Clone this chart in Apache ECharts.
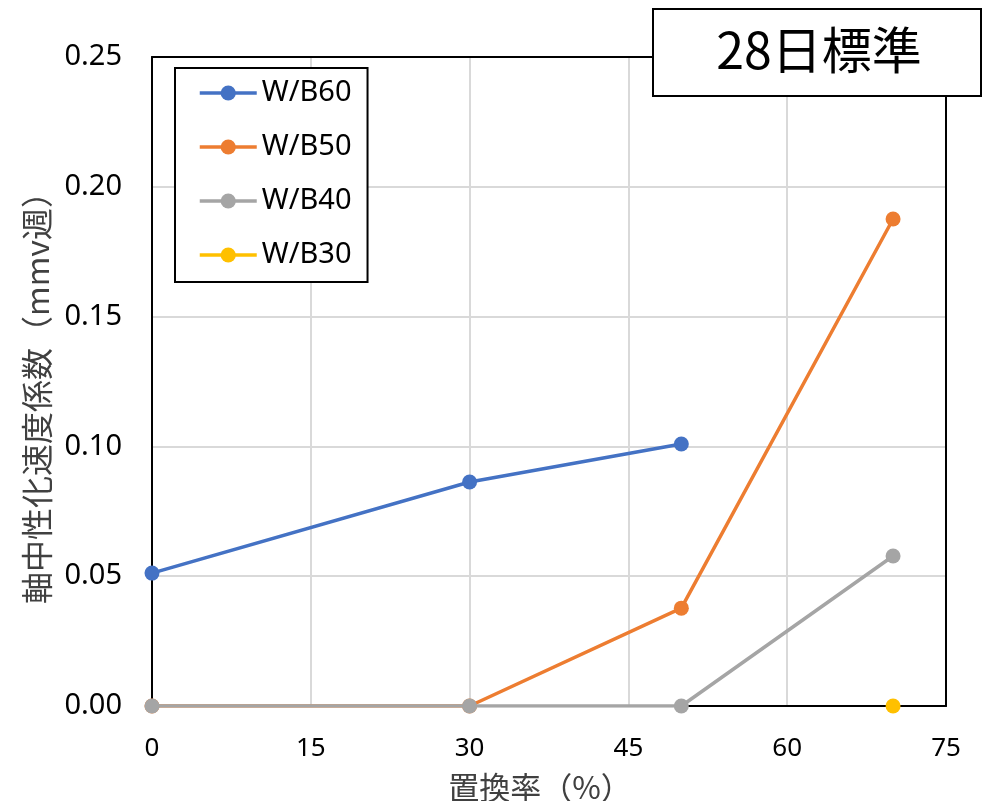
<!DOCTYPE html>
<html>
<head>
<meta charset="utf-8">
<script src="https://cdn.jsdelivr.net/npm/echarts@6/dist/echarts.min.js"></script>
<style>
html,body{margin:0;padding:0;background:#fff;}
#chart{width:989px;height:801px;}
</style>
</head>
<body>
<div id="chart"></div>
<script>
var xValues = [0, 30, 50, 70];
var seriesNames = ['W/B60', 'W/B50', 'W/B40', 'W/B30'];
var wb60 = [0.0512, 0.0863, 0.1009, null];
var wb50 = [0.0, 0.0, 0.0377, 0.1876];
var wb40 = [0.0, 0.0, 0.0, 0.0578];
var wb30 = [null, null, null, 0.0];
var colors = ['#4472C4', '#ED7D31', '#A5A5A5', '#FFC000'];
var xTicks = [0, 15, 30, 45, 60, 75];
var yTicks = [0, 0.05, 0.10, 0.15, 0.20, 0.25];
var titleText = '28日標準';
var xName = '置換率（%）';
var yName = '軸中性化速度係数（mmv週）';

var CJK = '"Noto Sans CJK JP", "Noto Sans", sans-serif';
var LAT = '"Noto Sans", "Noto Sans CJK JP", sans-serif';
function pairs(vals) {
  var out = [];
  for (var i = 0; i < xValues.length; i++) {
    if (vals[i] !== null) out.push([xValues[i], vals[i]]);
  }
  return out;
}
var allVals = [wb60, wb50, wb40, wb30];
var series = seriesNames.map(function (n, i) {
  return {
    name: n, type: 'line', data: pairs(allVals[i]),
    xAxisIndex: 0, yAxisIndex: 0,
    symbol: 'circle', symbolSize: 15,
    lineStyle: { width: 3.5, color: colors[i] },
    itemStyle: { color: colors[i] },
    z: 2 + i
  };
});

var chart = echarts.init(document.getElementById('chart'));
chart.setOption({
  animation: false,
  backgroundColor: '#fff',
  grid: { left: 152, top: 57, right: 43, bottom: 95 },
  xAxis: [{
    type: 'value', min: xTicks[0], max: xTicks[xTicks.length - 1], interval: 15,
    axisLine: { show: true, lineStyle: { color: '#000', width: 2 } },
    axisTick: { show: false },
    axisLabel: { color: '#000', fontSize: 26, fontFamily: LAT, margin: 30 },
    splitLine: { show: true, lineStyle: { color: '#d9d9d9', width: 2 } }
  }, {
    type: 'value', position: 'top', min: xTicks[0], max: xTicks[xTicks.length - 1], interval: 15,
    axisLine: { show: true, onZero: false, lineStyle: { color: '#000', width: 2 } },
    axisTick: { show: false }, axisLabel: { show: false }, splitLine: { show: false }, z: 3
  }],
  yAxis: [{
    type: 'value', min: yTicks[0], max: yTicks[yTicks.length - 1], interval: 0.05,
    axisLine: { show: true, lineStyle: { color: '#000', width: 2 } },
    axisTick: { show: false },
    axisLabel: { color: '#000', fontSize: 29, fontFamily: LAT, margin: 30,
      formatter: function (v) { return v.toFixed(2); } },
    splitLine: { show: true, lineStyle: { color: '#d9d9d9', width: 2 } }
  }, {
    type: 'value', position: 'right', min: yTicks[0], max: yTicks[yTicks.length - 1], interval: 0.05,
    axisLine: { show: true, onZero: false, lineStyle: { color: '#000', width: 2 } },
    axisTick: { show: false }, axisLabel: { show: false }, splitLine: { show: false }, z: 3
  }],
  legend: {
    data: seriesNames,
    orient: 'vertical', left: 175, top: 68,
    backgroundColor: '#fff', borderColor: '#000', borderWidth: 2,
    padding: [10, 16, 12, 23],
    itemWidth: 57, itemHeight: 19, itemGap: 24,
    lineStyle: { width: 3.5 },
    textStyle: { color: '#000', fontSize: 29, fontFamily: LAT, lineHeight: 30 }
  },
  series: series,
  graphic: [
    { type: 'rect', z: 100, shape: { x: 653, y: 9, width: 328, height: 87 },
      style: { fill: '#fff', stroke: '#000', lineWidth: 2 } },
    { type: 'text', z: 101, x: 819, y: 50,
      style: { text: titleText, fontSize: 50, fontFamily: CJK, fill: '#000', textAlign: 'center', textVerticalAlign: 'middle' } },
    { type: 'text', z: 101, x: 540, y: 787,
      style: { text: xName, fontSize: 31, fontFamily: CJK, fill: '#404040', textAlign: 'center', textVerticalAlign: 'middle' } },
    { type: 'text', z: 101, x: 37, y: 390, rotation: Math.PI / 2,
      style: { text: yName, fontSize: 32, fontFamily: CJK, fill: '#404040', textAlign: 'center', textVerticalAlign: 'middle' } }
  ]
});
</script>
</body>
</html>
